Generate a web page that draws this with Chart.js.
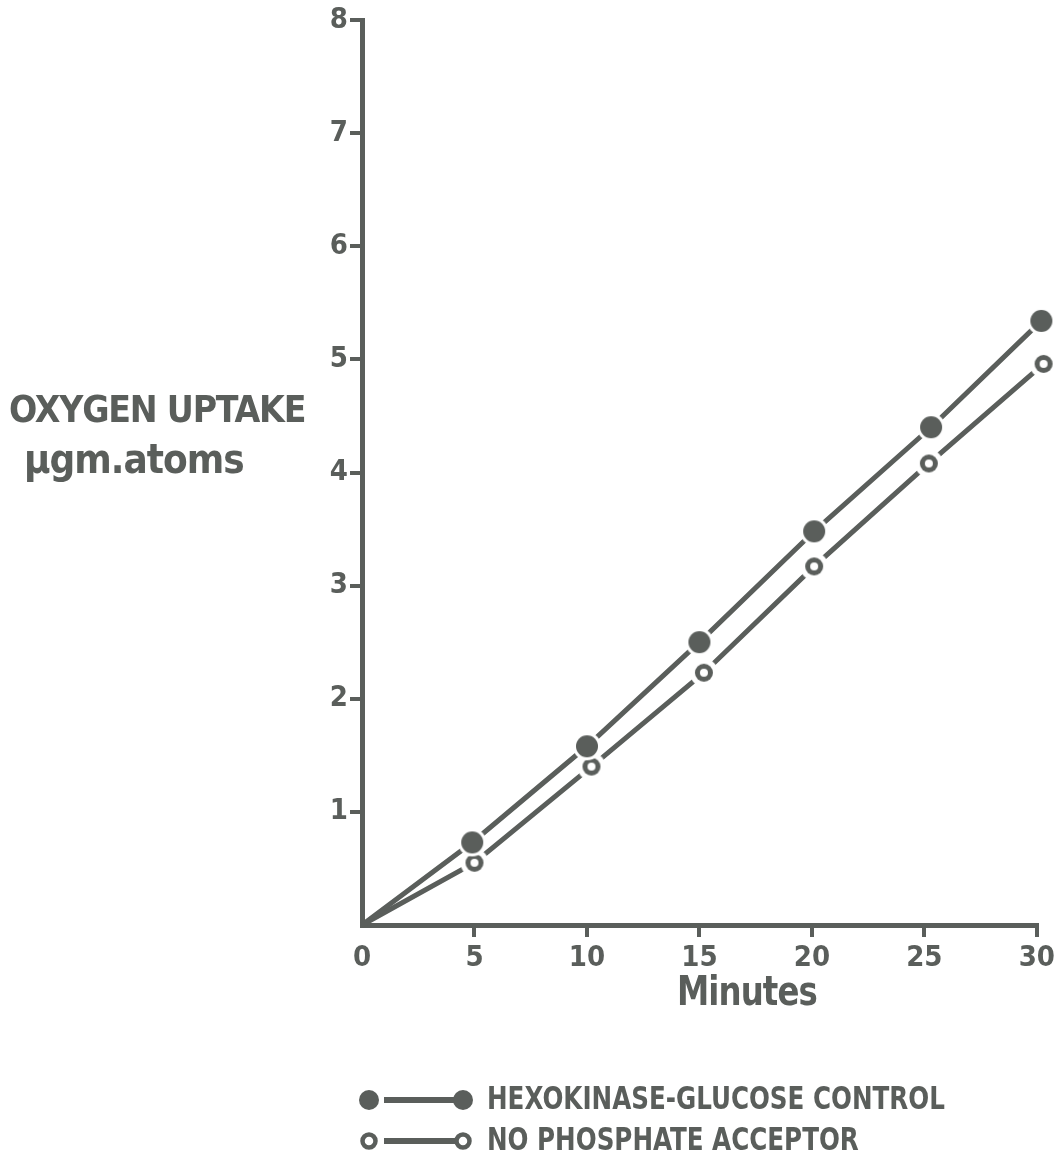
<!DOCTYPE html>
<html>
<head>
<meta charset="utf-8">
<script src="https://cdn.jsdelivr.net/npm/chart.js@4.4.0/dist/chart.umd.min.js"></script>
<style>
  html, body { margin: 0; padding: 0; background: #fff; }
  #wrap { position: relative; width: 1059px; height: 1165px; }
  #chart { position: absolute; left: 0; top: 0; }
  .lbl { position: absolute; color: #5a5e5b; font-family: "DejaVu Sans Condensed", sans-serif; font-weight: bold; white-space: nowrap; transform-origin: left top; }
</style>
</head>
<body>
<div id="wrap">
  <canvas id="chart" width="1059" height="1165"></canvas>
  <div class="lbl" style="left:9px; top:388px; font-size:37px; letter-spacing:-1.2px;">OXYGEN UPTAKE</div>
  <div class="lbl" style="left:24px; top:436px; font-size:40px; letter-spacing:-1px;">µgm.atoms</div>
  <div class="lbl" style="left:677px; top:968px; font-size:40px; letter-spacing:-1px; transform:scaleX(0.9);">Minutes</div>
</div>
<script>
const INK = "#5a5e5b";

// minutes, oxygen uptake (µgm atoms)
const controlMinutes = [0, 4.9, 10, 15, 20.1, 25.3, 30.2];
const controlUptake = [0, 0.73, 1.58, 2.5, 3.48, 4.4, 5.34];
const noAcceptorMinutes = [0, 5, 10.2, 15.2, 20.1, 25.2, 30.3];
const noAcceptorUptake = [0, 0.55, 1.4, 2.23, 3.17, 4.08, 4.96];

const xTicks = [0, 5, 10, 15, 20, 25, 30];
const yTicks = [1, 2, 3, 4, 5, 6, 7, 8];
const legendLabels = ["HEXOKINASE-GLUCOSE CONTROL", "NO PHOSPHATE ACCEPTOR"];

const toPoints = (xs, ys) => xs.map((x, i) => ({ x, y: ys[i] }));

// marker images: white halo leaves the small gap in the line seen in the figure
function marker(filled) {
  const c = document.createElement("canvas");
  c.width = c.height = 30;
  const g = c.getContext("2d");
  g.fillStyle = "#fff";
  g.beginPath(); g.arc(15, 15, 14, 0, Math.PI * 2); g.fill();
  g.fillStyle = INK;
  if (filled) {
    g.beginPath(); g.arc(15, 15, 11, 0, Math.PI * 2); g.fill();
  } else {
    g.beginPath(); g.arc(15, 15, 9, 0, Math.PI * 2); g.fill();
    g.fillStyle = "#fff";
    g.beginPath(); g.arc(15, 15, 4, 0, Math.PI * 2); g.fill();
  }
  return c;
}
const filledMarker = marker(true);
const openMarker = marker(false);

const legendPlugin = {
  id: "bottomLegend",
  afterDraw(chart) {
    const ctx = chart.ctx;
    ctx.save();
    ctx.font = "bold 32px 'DejaVu Sans Condensed', sans-serif";
    ctx.textBaseline = "middle";
    ctx.fillStyle = INK;
    ctx.strokeStyle = INK;
    const rows = [1100, 1141];
    rows.forEach((y, i) => {
      ctx.lineWidth = 6;
      ctx.beginPath();
      ctx.moveTo(384, y);
      ctx.lineTo(456, y);
      ctx.stroke();
      [369, 463].forEach(cx => {
        ctx.beginPath();
        if (i === 0) {
          ctx.arc(cx, y, 10, 0, Math.PI * 2);
          ctx.fill();
        } else {
          ctx.lineWidth = 4.5;
          ctx.arc(cx, y, 6.5, 0, Math.PI * 2);
          ctx.fillStyle = "#fff";
          ctx.fill();
          ctx.stroke();
          ctx.fillStyle = INK;
        }
      });
      ctx.save();
      ctx.translate(487, y + 1);
      ctx.scale(0.855, 1);
      ctx.fillText(legendLabels[i], 0, 0);
      ctx.restore();
    });
    ctx.restore();
  }
};

const tickFont = { family: "'DejaVu Sans Condensed', sans-serif", size: 29, weight: "bold" };

new Chart(document.getElementById("chart"), {
  type: "scatter",
  data: {
    datasets: [
      {
        label: legendLabels[0],
        data: toPoints(controlMinutes, controlUptake),
        showLine: true,
        borderColor: INK,
        borderWidth: 5,
        pointStyle: ctx => ctx.dataIndex === 0 ? false : filledMarker,
        clip: false,
      },
      {
        label: legendLabels[1],
        data: toPoints(noAcceptorMinutes, noAcceptorUptake),
        showLine: true,
        borderColor: INK,
        borderWidth: 5,
        pointStyle: ctx => ctx.dataIndex === 0 ? false : openMarker,
        clip: false,
      },
    ],
  },
  options: {
    responsive: false,
    animation: false,
    layout: { padding: { top: 20, right: 21, left: 0, bottom: 0 } },
    plugins: { legend: { display: false }, tooltip: { enabled: false } },
    scales: {
      x: {
        type: "linear",
        min: 0,
        max: 30,
        afterFit: s => { s.height = 240; },
        afterBuildTicks: s => { s.ticks = xTicks.map(v => ({ value: v })); },
        grid: {
          drawOnChartArea: false,
          color: ctx => ctx.tick && ctx.tick.value === 0 ? "rgba(0,0,0,0)" : INK,
          lineWidth: 4,
          tickLength: 12,
        },
        border: { color: INK, width: 5 },
        ticks: { color: INK, padding: 4, font: tickFont },
      },
      y: {
        min: 0,
        max: 8,
        afterFit: s => { s.width = 362; },
        afterBuildTicks: s => { s.ticks = yTicks.map(v => ({ value: v })); },
        grid: {
          drawOnChartArea: false,
          color: INK,
          lineWidth: 4,
          tickLength: 12,
        },
        border: { color: INK, width: 5 },
        ticks: { color: INK, padding: 2, font: tickFont },
      },
    },
  },
  plugins: [legendPlugin],
});
</script>
</body>
</html>
